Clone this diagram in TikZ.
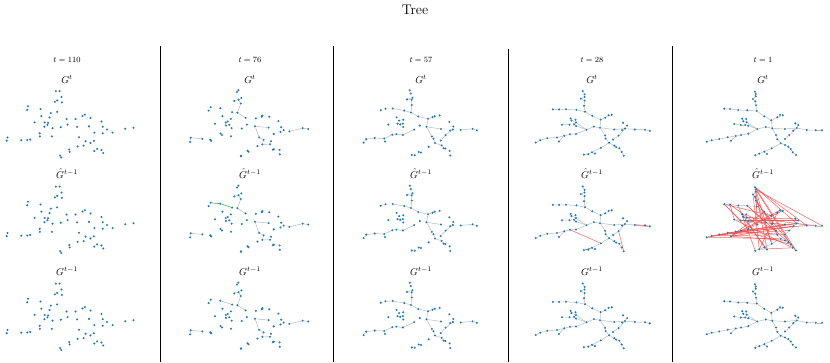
\documentclass[tikz,border=0pt]{standalone}
\usetikzlibrary{backgrounds}
\definecolor{dotblue}{HTML}{1F77B4}
\definecolor{edgegray}{RGB}{185,185,185}
\definecolor{wrongred}{RGB}{238,70,70}
\definecolor{newgreen}{RGB}{96,180,96}
\tikzset{
  dot/.style={circle,fill=dotblue,draw=none,inner sep=0pt,minimum size=2.3pt},
  treeedge/.style={draw=edgegray,line width=0.5pt},
  wrongedge/.style={draw=wrongred,line width=0.5pt,opacity=0.85},
  thickwrong/.style={draw=wrongred!60,line width=1.3pt},
  newedge/.style={draw=newgreen,line width=0.7pt},
  sepline/.style={draw=black,line width=0.8pt},
  tlabel/.style={font=\fontsize{8.5}{10}\selectfont,anchor=base,inner sep=0pt},
  glabel/.style={font=\fontsize{10}{12}\selectfont,anchor=base,inner sep=0pt},
}
% node layout of the tree (local px, y down)
\def\treenodes{1/85.0/16.7, 2/85.7/19.0, 3/85.7/21.3, 4/83.0/24.0, 5/85.3/26.3,
 6/86.0/30.3, 7/86.7/36.0, 8/77.3/35.3, 9/68.3/35.0, 10/60.0/34.0, 11/54.3/33.7,
 12/94.3/41.3, 13/101.3/45.3, 14/107.3/42.3, 15/110.0/39.7, 16/112.7/40.3,
 17/102.3/53.3, 18/115.0/54.0, 19/126.7/53.0, 20/136.7/55.0, 21/145.7/55.3,
 22/152.0/55.3, 23/128.3/50.0, 24/123.3/55.7, 25/125.3/48.3, 26/119.3/60.0,
 27/115.0/64.0, 28/110.7/68.3, 29/101.7/73.3, 30/94.3/76.7, 31/89.3/78.7,
 32/85.3/80.3, 33/97.0/79.0, 34/115.0/70.0, 35/118.3/71.7, 36/120.7/74.0,
 37/122.7/77.3, 38/126.0/80.0, 39/106.0/60.0, 40/107.3/64.3, 41/95.7/52.0,
 42/87.3/54.0, 43/78.3/50.7, 44/75.3/50.0, 45/70.7/50.0, 46/64.3/49.0,
 47/76.7/47.3, 48/73.3/46.3, 49/72.3/43.7, 50/76.3/44.0, 51/78.3/58.7,
 52/71.0/60.0, 53/65.7/61.0, 54/61.0/65.7, 55/57.7/62.3, 56/49.3/64.0,
 57/41.7/65.3, 58/36.7/66.7}
% edge sets
\def\edgesall{1/2,2/3,3/4,4/5,5/6,6/7,7/8,8/9,9/10,10/11,7/12,12/13,13/14,14/15,
 14/16,13/17,17/18,18/19,19/20,20/21,21/22,19/23,19/24,23/25,19/26,26/27,17/39,
 39/40,40/28,28/29,29/30,30/31,31/32,30/33,28/34,34/35,35/36,36/37,37/38,17/41,
 41/42,42/43,43/44,44/45,45/46,42/47,47/48,48/49,47/50,42/51,51/52,52/53,53/54,
 53/55,55/56,56/57,57/58}
\def\edgesfour{1/2,2/3,3/4,4/5,5/6,6/7,7/8,8/9,9/10,10/11,7/12,12/13,13/14,14/15,
 13/17,17/18,18/19,19/20,20/21,21/22,19/23,19/24,19/26,26/27,17/39,
 39/40,40/28,28/29,29/30,30/31,31/32,28/34,34/35,35/36,36/37,37/38,17/41,
 41/42,42/43,43/44,45/46,42/47,47/48,48/49,42/51,51/52,52/53,53/54,
 53/55,55/56,56/57,57/58}
\def\edgesthree{3/4,4/5,5/6,6/7,7/8,8/9,7/12,12/13,13/14,13/17,17/18,17/39,39/40,
 40/28,28/34,34/35,19/26,26/27,20/21,21/22,42/51,51/52,52/53,53/55,55/56,56/57,57/58}
\def\edgestwo{4/5,5/6,6/7,7/12,17/18,17/39,39/40,40/28,28/34,57/58,56/57,52/53,
 20/21,21/22}
\def\wrongfour{52/29,26/38}
\def\wrongfive{58/19,57/24,56/26,55/20,54/34,53/27,52/36,1/19,2/22,4/40,
 5/29,11/13,10/42,9/32,8/35,12/38,14/31,15/52,16/54,6/17,45/23,46/37,47/25,49/30,
 50/39,43/18,44/33,48/21,3/42,57/40,56/18,31/37,11/45,1/20,2/36,58/28,
 54/24,53/19,1/38,2/29,11/51,12/54,4/31,3/33,10/46,8/41}
% dots of one panel: name, origin x, origin y, jitter, seed, spread
\newcommand{\treedots}[6]{%
  \foreach \i/\x/\y in \treenodes {
    \pgfmathsetmacro\px{#2+94.5+#6*(\x-94.5)+#4*sin(137*\i+#5)}
    \pgfmathsetmacro\py{#3+\y+#4*cos(91*\i+#5)}
    \node[dot] (#1-\i) at (\px,\py) {};
  }}
% connectors of one panel: [style] name, list
\newcommand{\treeedges}[3][treeedge]{%
  \begin{pgfonlayer}{background}
  \foreach \a/\b in #3 {\draw[#1] (#2-\a) -- (#2-\b);}
  \end{pgfonlayer}}
\begin{document}
\begin{tikzpicture}[x=1pt,y=-1pt]
\useasboundingbox (0,0) rectangle (830,362);
\node[font=\fontsize{14}{16}\selectfont,anchor=base,inner sep=0pt] (title) at (415,14) {Tree};

\foreach \c/\ox/\amp/\seed/\sc/\tval/\lx in {1/-26/3/11/1.1/110/67, 2/153.5/2.5/37/1.04/76/250,
  3/325.5/1.5/71/1.0/57/421, 4/498.5/0.8/113/1.0/28/592, 5/670/0/0/1.0/1/763} {
  \node[tlabel] (t\c) at (\lx,62) {$t = \tval$};
  \node[glabel] (g\c r1) at (\lx,83) {$G^t$};
  \node[glabel] (g\c r2) at (\lx,178.5) {$\hat{G}^{t-1}$};
  \node[glabel] (g\c r3) at (\lx,275.5) {$G^{t-1}$};
  \foreach \r/\oy in {1/75,2/170.5,3/267.5} {
    \treedots{c\c r\r}{\ox}{\oy}{\amp}{\seed}{\sc}
  }
}

% t = 76
\treeedges{c2r1}{\edgestwo}
\treeedges{c2r2}{\edgestwo}
\treeedges[newedge]{c2r2}{{10/9,9/8}}
\treeedges{c2r3}{\edgestwo}
\treeedges{c2r3}{{9/8}}
% t = 57
\treeedges{c3r1}{\edgesthree}
\treeedges{c3r2}{\edgesthree}
\treeedges{c3r3}{\edgesthree}
\treeedges{c3r3}{{9/10}}
% t = 28
\treeedges{c4r1}{\edgesfour}
\treeedges{c4r2}{\edgesfour}
\treeedges[thickwrong]{c4r2}{{20/22}}
\treeedges[wrongedge]{c4r2}{\wrongfour}
\treeedges[newedge]{c4r2}{{32/30}}
\treeedges{c4r3}{\edgesfour}
\treeedges{c4r3}{{30/33}}
% t = 1
\treeedges{c5r1}{\edgesall}
\treeedges{c5r2}{\edgesall}
\treeedges[wrongedge]{c5r2}{\wrongfive}
\treeedges{c5r3}{\edgesall}

% column separators
\draw[sepline] (160,46) -- (160,362);
\draw[sepline] (333.5,46) -- (333.5,362);
\draw[sepline] (508,49) -- (508,362);
\draw[sepline] (672,46) -- (672,362);
\end{tikzpicture}
\end{document}
